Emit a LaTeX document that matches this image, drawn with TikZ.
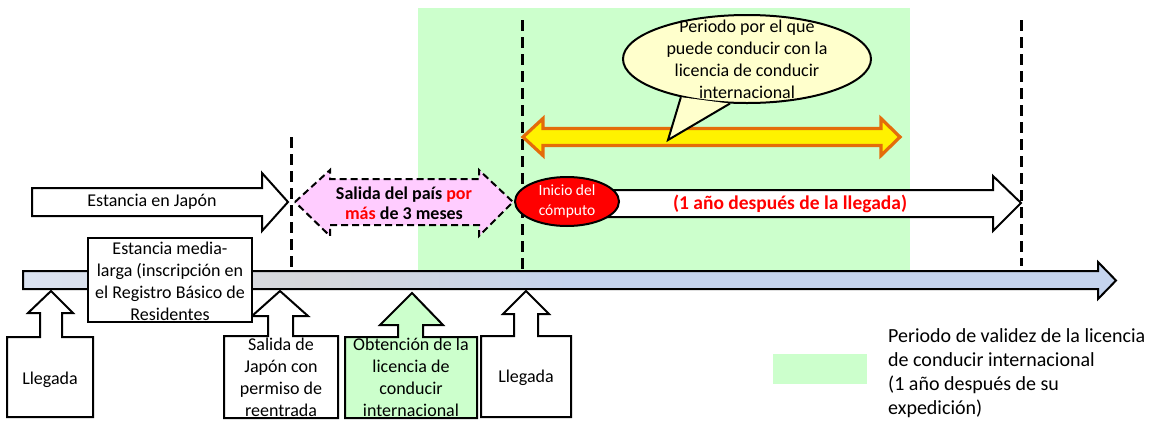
\documentclass[tikz,border=0pt]{standalone}
\usepackage{fontspec}
\setmainfont{Carlito}
\usetikzlibrary{shapes.geometric}
\definecolor{bggreen}{HTML}{CCFFCC}
\definecolor{pinkf}{HTML}{FFCCFF}
\definecolor{orangeb}{HTML}{E46C0A}
\definecolor{bubblef}{HTML}{FFFFCC}
\definecolor{redtxt}{HTML}{FF0000}
\definecolor{tlA}{HTML}{DAE2F1}
\definecolor{tlB}{HTML}{D6D7DA}
\definecolor{tlC}{HTML}{C5D4EE}
\pgfdeclarehorizontalshading{tlshade}{100bp}{color(0bp)=(tlA); color(25bp)=(tlA); color(38bp)=(tlB); color(50bp)=(tlC); color(100bp)=(tlC)}
\begin{document}
\begin{tikzpicture}[x=1pt,y=-1pt,
  txt/.style={font=\fontsize{18}{22}\selectfont, align=center, inner sep=0pt},
  outl/.style={draw=black, line width=2pt, line join=miter},
  vdash/.style={draw=black, line width=3pt, dash pattern=on 11pt off 6pt},
  pinkdash/.style={draw=black, line width=2pt, dash pattern=on 7pt off 4pt, fill=pinkf}]
\useasboundingbox (0,0) rectangle (1157,421);
% validity background
\fill[bggreen] (418,8) rectangle (910,271);
% dashed markers
\draw[vdash] (291,137) -- (291,271);
\draw[vdash] (522,20) -- (522,271);
\draw[vdash] (1021,20) -- (1021,266);
% timeline
\shadedraw[outl, shading=tlshade] (23,271) -- (1098,271) -- (1098,262) -- (1116,280.5) -- (1098,299) -- (1098,289) -- (23,289) -- cycle;
% stay in Japan arrow
\draw[outl, fill=white] (32,188) -- (262,188) -- (262,173) -- (288,202) -- (262,231) -- (262,216) -- (32,216) -- cycle;
\node[txt] (stay) at (152,202) {Estancia en Japón};
% leaving the country (dashed double arrow)
\path[pinkdash] (295,202) -- (330,170) -- (330,179) -- (479,179) -- (479,170) -- (513,202) -- (479,236) -- (479,225) -- (330,225) -- (330,236) -- cycle;
\node[txt, font=\fontsize{18}{20}\selectfont\bfseries] (leave) at (404,203) {Salida del país \textcolor{redtxt}{por}\\\textcolor{redtxt}{más} de 3 meses};
% one year arrow
\draw[outl, fill=white] (567,190) -- (993,190) -- (993,176) -- (1021,203) -- (993,231) -- (993,217) -- (567,217) -- cycle;
\node[txt, font=\fontsize{19.5}{22}\selectfont\bfseries, text=redtxt] (oneyear) at (790,204) {(1 año después de la llegada)};
% start ellipse
\node[ellipse, outl, fill=redtxt, minimum width=104pt, minimum height=49pt, inner sep=0pt, text=white, align=center, font=\fontsize{15.5}{20}\selectfont] (start) at (567,201.5) {Inicio del\\cómputo};
% yellow double arrow
\draw[line width=3.2pt, draw=orangeb, fill=yellow, line join=miter] (523,137) -- (543,118.5) -- (543,128.5) -- (881,128.5) -- (881,118.5) -- (900,137) -- (881,155.5) -- (881,145.5) -- (543,145.5) -- (543,155.5) -- cycle;
% speech bubble
\node[ellipse, outl, fill=bubblef, minimum width=248pt, minimum height=88pt, inner sep=0pt] (bubble) at (747,59) {};
\coordinate (tailtip) at (668,140);
\fill[bubblef] (bubble.210) -- (tailtip) -- (bubble.249) -- cycle;
\draw[outl] (bubble.210) -- (tailtip) -- (bubble.249);
\node[txt] (bubbletext) at (747,59) {Periodo por el que\\puede conducir con la\\licencia de conducir\\internacional};
% lower callouts
\draw[outl, fill=white] (51,291) -- (73,313) -- (62,313) -- (62,337) -- (93,337) -- (93,417) -- (7,417) -- (7,337) -- (40,337) -- (40,313) -- (28,313) -- cycle;
\node[txt] (arr1) at (50,380) {Llegada};
\draw[outl, fill=white] (280,291) -- (308,316) -- (293,316) -- (293,336) -- (338,336) -- (338,418) -- (224,418) -- (224,336) -- (268,336) -- (268,316) -- (252,316) -- cycle;
\node[txt] (exit) at (281,377) {Salida de\\Japón con\\permiso de\\reentrada};
\draw[outl, fill=bggreen] (412,293) -- (443,325) -- (423,325) -- (423,337) -- (477,337) -- (477,418) -- (345,418) -- (345,337) -- (398,337) -- (398,325) -- (380,325) -- cycle;
\node[txt] (obtain) at (411,377) {Obtención de la\\licencia de\\conducir\\internacional};
\draw[outl, fill=white] (526,291) -- (549,314) -- (538,314) -- (538,336) -- (571,336) -- (571,417) -- (481,417) -- (481,336) -- (514,336) -- (514,314) -- (503,314) -- cycle;
\node[txt] (arr2) at (526,378) {Llegada};
% medium-long stay box
\draw[outl, fill=white] (88,238) rectangle (252,322);
\node[txt] (midstay) at (170,281) {Estancia media-\\larga (inscripción en\\el Registro Básico de\\Residentes};
% legend
\fill[bggreen] (773,354) rectangle (867,384);
\node[anchor=north west, align=left, inner sep=0pt, font=\fontsize{20}{24}\selectfont] (legend) at (888,328) {Periodo de validez de la licencia\\de conducir internacional\\(1 año después de su\\expedición)};
\end{tikzpicture}
\end{document}
